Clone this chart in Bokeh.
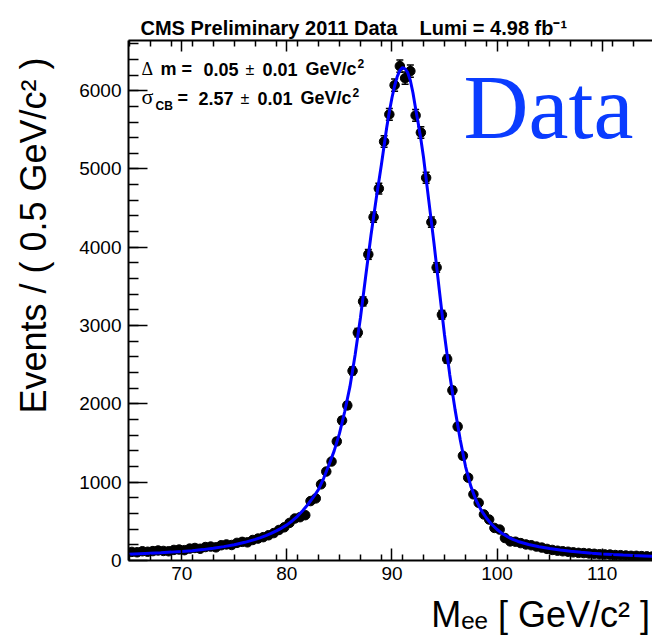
import math
from bokeh.plotting import figure
from bokeh.models import (ColumnDataSource, Label, LinearAxis, FixedTicker,
                          Whisker, TeeHead, Range1d)
from bokeh.embed import file_html
from bokeh.resources import INLINE

# ---------------- data ----------------
mass_bins = [65.25, 65.75, 66.25, 66.75, 67.25, 67.75, 68.25, 68.75, 69.25, 69.75,
             70.25, 70.75, 71.25, 71.75, 72.25, 72.75, 73.25, 73.75, 74.25, 74.75,
             75.25, 75.75, 76.25, 76.75, 77.25, 77.75, 78.25, 78.75, 79.25, 79.75,
             80.25, 80.75, 81.25, 81.75, 82.25, 82.75, 83.25, 83.75, 84.25, 84.75,
             85.25, 85.75, 86.25, 86.75, 87.25, 87.75, 88.25, 88.75, 89.25, 89.75,
             90.25, 90.75, 91.25, 91.75, 92.25, 92.75, 93.25, 93.75, 94.25, 94.75,
             95.25, 95.75, 96.25, 96.75, 97.25, 97.75, 98.25, 98.75, 99.25, 99.75,
             100.25, 100.75, 101.25, 101.75, 102.25, 102.75, 103.25, 103.75, 104.25, 104.75,
             105.25, 105.75, 106.25, 106.75, 107.25, 107.75, 108.25, 108.75, 109.25, 109.75,
             110.25, 110.75, 111.25, 111.75, 112.25, 112.75, 113.25, 113.75, 114.25, 114.75]

events = [110, 105, 118, 112, 120, 128, 122, 118, 135, 140,
          132, 152, 160, 150, 172, 178, 168, 195, 205, 198,
          225, 238, 232, 262, 280, 298, 322, 350, 390, 424,
          480, 536, 553, 579, 759, 793, 973, 1136, 1264, 1521,
          1788, 1980, 2422, 2910, 3309, 3909, 4385, 4750, 5350, 5697,
          6070, 6314, 6160, 6250, 5684, 5465, 4887, 4321, 3742, 3138,
          2572, 2173, 1710, 1337, 1058, 845, 737, 588, 523, 416,
          395, 287, 244, 240, 222, 205, 195, 178, 165, 148,
          135, 125, 118, 112, 104, 98, 95, 90, 86, 80,
          78, 76, 70, 68, 64, 60, 60, 56, 53, 50]

fit_mass = [64.9, 66, 67, 68, 69, 70, 71, 72, 73, 74, 75, 76, 77, 77.5, 78, 78.5,
            79, 79.5, 80, 80.5, 81, 81.5, 82, 82.5, 83, 83.5, 84, 84.5, 85, 85.5,
            86, 86.5, 87, 87.5, 88, 88.5, 89, 89.5, 89.75, 90, 90.25, 90.5, 90.75,
            91, 91.25, 91.5, 91.75, 92, 92.25, 92.5, 92.75, 93, 93.5, 94, 94.5, 95,
            95.5, 96, 96.5, 97, 97.5, 98, 98.5, 99, 99.5, 100, 100.5, 101, 101.5,
            102, 103, 104, 105, 106, 107, 108, 109, 110, 111, 112, 113, 114, 114.8]

fit_events = [80, 87, 93, 99, 107, 116, 126, 139, 156, 177, 202, 232, 270, 293, 318, 346,
              378, 414, 455, 505, 565, 635, 715, 805, 905, 1050, 1220, 1400, 1620, 1900,
              2220, 2630, 3100, 3630, 4150, 4620, 5060, 5530, 5730, 5910, 6060, 6180, 6260,
              6295, 6280, 6230, 6130, 5970, 5770, 5580, 5380, 5150, 4600, 4050, 3460, 2880,
              2370, 1930, 1540, 1200, 950, 770, 640, 540, 460, 396, 344, 303, 270,
              243, 205, 176, 152, 133, 117, 104, 93, 84, 76, 69, 63, 58, 54]

x_ticks = [70, 80, 90, 100, 110]
y_ticks = [0, 1000, 2000, 3000, 4000, 5000, 6000]

header = "CMS Preliminary 2011 Data\u00a0\u00a0\u00a0\u00a0Lumi = 4.98 fb\u207b\u00b9"
x_title = "M\u2091\u2091 [ GeV/c\u00b2 ]"
y_title = "Events / ( 0.5 GeV/c\u00b2 )"

# ---------------- layout ----------------
W, H = 652, 642
L, R, T, B = 128, 652, 40, 560
X0, X1 = 64.93, 114.79
Y0, Y1 = 0.0, 6641.0
NB = "\u00a0"   # padding that moves the (centred) axis titles toward their ROOT position


def dx(sx):
    return X0 + (sx - L) * (X1 - X0) / (R - L)


def dy(sy):
    return Y1 - (sy - T) * (Y1 - Y0) / (B - T)


p = figure(width=W, height=H, x_range=Range1d(X0, X1), y_range=Range1d(Y0, Y1),
           output_backend="svg", toolbar_location=None,
           min_border_left=L, min_border_right=W - R,
           min_border_top=T, min_border_bottom=H - B)
p.outline_line_color = None
p.xgrid.visible = False
p.ygrid.visible = False
p.background_fill_color = "white"
p.border_fill_color = "white"

# header as the plot title
p.title.text = header
p.title.align = "left"
p.title.offset = 12
p.title.standoff = 3
p.title.text_font = "Liberation Sans"
p.title.text_font_size = "20px"
p.title.text_font_style = "bold"
p.title.text_color = "black"

x_minor = [v / 2 for v in range(130, 230, 4)]
y_minor = list(range(200, 6700, 200))

xa = p.xaxis[0]
xa.ticker = FixedTicker(ticks=x_ticks, minor_ticks=x_minor)
ya = p.yaxis[0]
ya.ticker = FixedTicker(ticks=y_ticks, minor_ticks=y_minor)

for ax in (xa, ya):
    ax.axis_line_width = 2
    ax.axis_line_color = "black"
    ax.major_tick_line_width = 1.5
    ax.minor_tick_line_width = 1.5
    ax.major_tick_out = 0
    ax.minor_tick_out = 0
    ax.major_label_text_font = "Liberation Sans"
    ax.major_label_text_font_size = "19px"
    ax.major_label_text_color = "black"
    ax.axis_label_text_font = "Liberation Sans"
    ax.axis_label_text_font_size = "36px"
    ax.axis_label_text_font_style = "normal"
    ax.axis_label_text_color = "black"

xa.major_tick_in = 12
xa.minor_tick_in = 6
xa.major_label_standoff = 6
xa.axis_label = NB * 30 + x_title
xa.axis_label_standoff = 11

ya.major_tick_in = 19
ya.minor_tick_in = 10
ya.major_label_standoff = 7
ya.axis_label = NB * 13 + y_title
ya.axis_label_standoff = 22

top = LinearAxis(ticker=FixedTicker(ticks=x_ticks, minor_ticks=x_minor))
top.axis_line_width = 2
top.major_tick_line_width = 1.5
top.minor_tick_line_width = 1.5
top.major_tick_out = 0
top.minor_tick_out = 0
top.major_tick_in = 11
top.minor_tick_in = 6
top.major_label_overrides = {t: "" for t in x_ticks}
top.major_label_standoff = 0
p.add_layout(top, "above")

# ---------------- data points with error bars ----------------
err = [math.sqrt(v) for v in events]
src = ColumnDataSource(dict(x=mass_bins, y=events,
                            lo=[v - e for v, e in zip(events, err)],
                            hi=[v + e for v, e in zip(events, err)]))
p.add_layout(Whisker(source=src, base="x", upper="hi", lower="lo", dimension="height",
                     line_color="black", line_width=1.5,
                     upper_head=TeeHead(size=7, line_color="black", line_width=1.5),
                     lower_head=TeeHead(size=7, line_color="black", line_width=1.5)))
p.scatter("x", "y", source=src, marker="circle", size=9.5, color="black")

p.line(fit_mass, fit_events, line_color="#0000ff", line_width=3)


# ---------------- texts inside the frame ----------------
def put(sx, sy, text, size, font="Liberation Sans", style="bold", color="black",
        align="left"):
    # sy is the wanted baseline; the renderer places the baseline ~0.345 em lower
    p.add_layout(Label(x=dx(sx), y=dy(sy - 0.345 * size), text=text, text_font=font,
                       text_font_size=f"{size}px", text_font_style=style,
                       text_color=color, text_align=align,
                       text_baseline="alphabetic"))


put(141, 75, "\u0394", 18, font="Liberation Serif", style="normal")
put(160, 75, "m =", 18)
put(203, 75, "0.05", 18)
put(245, 75, "\u00b1", 16, style="normal")
put(262, 75, "0.01", 18)
put(305, 75, "GeV/c", 18)
put(357, 67, "2", 12)

put(141, 104, "\u03c3", 22, font="Liberation Serif", style="normal")
put(155, 110, "CB", 12)
put(177, 104, "=", 18)
put(198, 104, "2.57", 18)
put(240, 104, "\u00b1", 16, style="normal")
put(257, 104, "0.01", 18)
put(300, 104, "GeV/c", 18)
put(352, 96, "2", 12)

put(463, 138, "Data", 90, font="Liberation Serif", style="normal", color="#0a3cff")

open("out.html", "w").write(file_html(p, INLINE))
